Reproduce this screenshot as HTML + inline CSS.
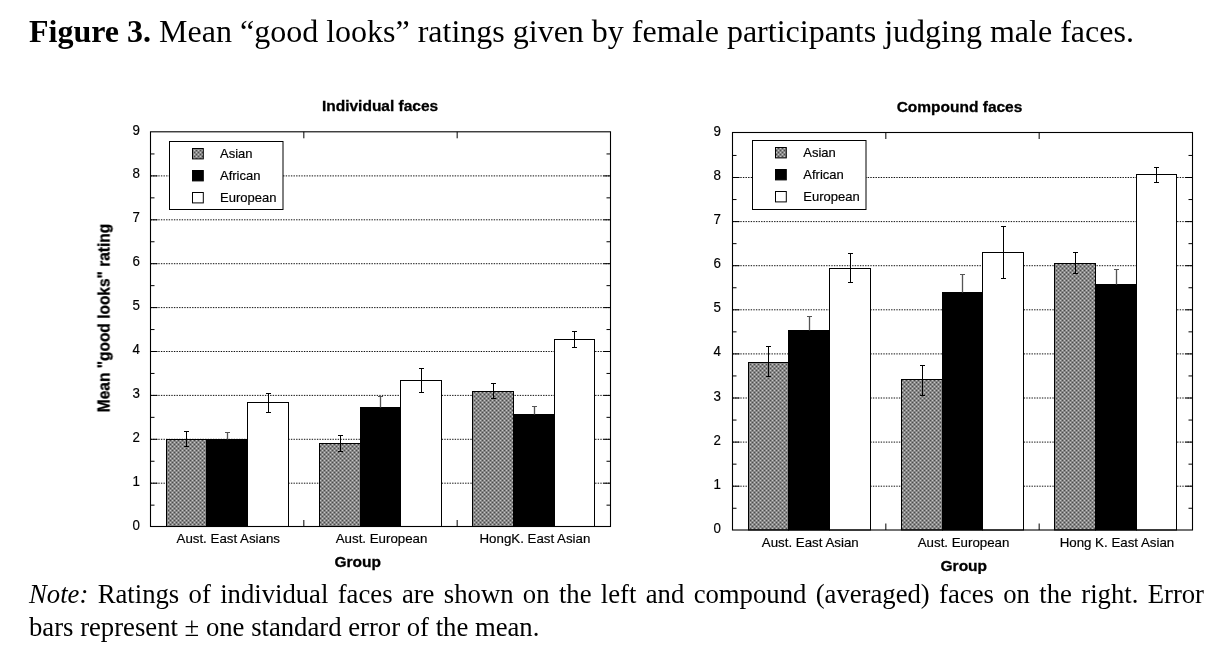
<!DOCTYPE html>
<html><head><meta charset="utf-8">
<style>
html,body{margin:0;padding:0;background:#fff;}
svg,.t{will-change:transform;}
body{width:1228px;height:656px;position:relative;overflow:hidden;}
.t{position:absolute;font-family:"Liberation Serif",serif;color:#000;white-space:nowrap;}
#title{left:29px;top:11px;font-size:32px;line-height:40px;}
#n1{left:29px;width:1175px;top:578px;font-size:26.7px;line-height:32px;text-align:justify;text-align-last:justify;}
#n2{left:29px;top:610.5px;font-size:26.7px;line-height:32px;}
</style></head><body>
<svg width="1228" height="656" viewBox="0 0 1228 656" style="position:absolute;left:0;top:0" font-family="Liberation Sans, sans-serif" stroke-width="0">
<style>text{stroke:#000;stroke-width:0.18px;} text[font-weight]{stroke-width:0.3px;}</style>
<defs>
<pattern id="hatch" width="4" height="4" patternUnits="userSpaceOnUse">
<rect width="4" height="4" fill="#878787"/>
<rect x="0" y="0" width="1" height="1" fill="#c4c4c4"/>
<rect x="2" y="0" width="1" height="1" fill="#4c4c4c"/>
<rect x="0" y="2" width="1" height="1" fill="#4c4c4c"/>
<rect x="2" y="2" width="1" height="1" fill="#c4c4c4"/>
</pattern>
</defs>
<line x1="150.5" y1="483.20000000000005" x2="610.5" y2="483.20000000000005" stroke="#111" stroke-width="1" stroke-dasharray="1.4 1.2"/>
<line x1="150.5" y1="439.3" x2="610.5" y2="439.3" stroke="#111" stroke-width="1" stroke-dasharray="1.4 1.2"/>
<line x1="150.5" y1="395.40000000000003" x2="610.5" y2="395.40000000000003" stroke="#111" stroke-width="1" stroke-dasharray="1.4 1.2"/>
<line x1="150.5" y1="351.5" x2="610.5" y2="351.5" stroke="#111" stroke-width="1" stroke-dasharray="1.4 1.2"/>
<line x1="150.5" y1="307.6" x2="610.5" y2="307.6" stroke="#111" stroke-width="1" stroke-dasharray="1.4 1.2"/>
<line x1="150.5" y1="263.70000000000005" x2="610.5" y2="263.70000000000005" stroke="#111" stroke-width="1" stroke-dasharray="1.4 1.2"/>
<line x1="150.5" y1="219.8" x2="610.5" y2="219.8" stroke="#111" stroke-width="1" stroke-dasharray="1.4 1.2"/>
<line x1="150.5" y1="175.90000000000003" x2="610.5" y2="175.90000000000003" stroke="#111" stroke-width="1" stroke-dasharray="1.4 1.2"/>
<line x1="150.5" y1="483.20000000000005" x2="157.5" y2="483.20000000000005" stroke="#000" stroke-width="1"/>
<line x1="603.5" y1="483.20000000000005" x2="610.5" y2="483.20000000000005" stroke="#000" stroke-width="1"/>
<line x1="150.5" y1="439.3" x2="157.5" y2="439.3" stroke="#000" stroke-width="1"/>
<line x1="603.5" y1="439.3" x2="610.5" y2="439.3" stroke="#000" stroke-width="1"/>
<line x1="150.5" y1="395.40000000000003" x2="157.5" y2="395.40000000000003" stroke="#000" stroke-width="1"/>
<line x1="603.5" y1="395.40000000000003" x2="610.5" y2="395.40000000000003" stroke="#000" stroke-width="1"/>
<line x1="150.5" y1="351.5" x2="157.5" y2="351.5" stroke="#000" stroke-width="1"/>
<line x1="603.5" y1="351.5" x2="610.5" y2="351.5" stroke="#000" stroke-width="1"/>
<line x1="150.5" y1="307.6" x2="157.5" y2="307.6" stroke="#000" stroke-width="1"/>
<line x1="603.5" y1="307.6" x2="610.5" y2="307.6" stroke="#000" stroke-width="1"/>
<line x1="150.5" y1="263.70000000000005" x2="157.5" y2="263.70000000000005" stroke="#000" stroke-width="1"/>
<line x1="603.5" y1="263.70000000000005" x2="610.5" y2="263.70000000000005" stroke="#000" stroke-width="1"/>
<line x1="150.5" y1="219.8" x2="157.5" y2="219.8" stroke="#000" stroke-width="1"/>
<line x1="603.5" y1="219.8" x2="610.5" y2="219.8" stroke="#000" stroke-width="1"/>
<line x1="150.5" y1="175.90000000000003" x2="157.5" y2="175.90000000000003" stroke="#000" stroke-width="1"/>
<line x1="603.5" y1="175.90000000000003" x2="610.5" y2="175.90000000000003" stroke="#000" stroke-width="1"/>
<line x1="150.5" y1="505.15000000000003" x2="154.5" y2="505.15000000000003" stroke="#000" stroke-width="1"/>
<line x1="606.5" y1="505.15000000000003" x2="610.5" y2="505.15000000000003" stroke="#000" stroke-width="1"/>
<line x1="150.5" y1="461.25000000000006" x2="154.5" y2="461.25000000000006" stroke="#000" stroke-width="1"/>
<line x1="606.5" y1="461.25000000000006" x2="610.5" y2="461.25000000000006" stroke="#000" stroke-width="1"/>
<line x1="150.5" y1="417.35" x2="154.5" y2="417.35" stroke="#000" stroke-width="1"/>
<line x1="606.5" y1="417.35" x2="610.5" y2="417.35" stroke="#000" stroke-width="1"/>
<line x1="150.5" y1="373.45000000000005" x2="154.5" y2="373.45000000000005" stroke="#000" stroke-width="1"/>
<line x1="606.5" y1="373.45000000000005" x2="610.5" y2="373.45000000000005" stroke="#000" stroke-width="1"/>
<line x1="150.5" y1="329.55" x2="154.5" y2="329.55" stroke="#000" stroke-width="1"/>
<line x1="606.5" y1="329.55" x2="610.5" y2="329.55" stroke="#000" stroke-width="1"/>
<line x1="150.5" y1="285.65000000000003" x2="154.5" y2="285.65000000000003" stroke="#000" stroke-width="1"/>
<line x1="606.5" y1="285.65000000000003" x2="610.5" y2="285.65000000000003" stroke="#000" stroke-width="1"/>
<line x1="150.5" y1="241.75000000000006" x2="154.5" y2="241.75000000000006" stroke="#000" stroke-width="1"/>
<line x1="606.5" y1="241.75000000000006" x2="610.5" y2="241.75000000000006" stroke="#000" stroke-width="1"/>
<line x1="150.5" y1="197.85000000000002" x2="154.5" y2="197.85000000000002" stroke="#000" stroke-width="1"/>
<line x1="606.5" y1="197.85000000000002" x2="610.5" y2="197.85000000000002" stroke="#000" stroke-width="1"/>
<line x1="150.5" y1="153.95000000000005" x2="154.5" y2="153.95000000000005" stroke="#000" stroke-width="1"/>
<line x1="606.5" y1="153.95000000000005" x2="610.5" y2="153.95000000000005" stroke="#000" stroke-width="1"/>
<line x1="303.83333333333337" y1="131.8" x2="303.83333333333337" y2="138.3" stroke="#000" stroke-width="1"/>
<line x1="303.83333333333337" y1="526.5" x2="303.83333333333337" y2="520.0" stroke="#000" stroke-width="1"/>
<line x1="457.1666666666667" y1="131.8" x2="457.1666666666667" y2="138.3" stroke="#000" stroke-width="1"/>
<line x1="457.1666666666667" y1="526.5" x2="457.1666666666667" y2="520.0" stroke="#000" stroke-width="1"/>
<rect x="169.5" y="141.5" width="113.5" height="68" fill="#fff" stroke="#000" stroke-width="1"/>
<rect x="192.5" y="148.5" width="10.8" height="10.4" fill="url(#hatch)" stroke="#000" stroke-width="1"/>
<text x="220" y="157.8" font-size="13">Asian</text>
<rect x="192.5" y="170.5" width="10.8" height="10.4" fill="#000" stroke="#000" stroke-width="1"/>
<text x="220" y="179.8" font-size="13">African</text>
<rect x="192.5" y="192.5" width="10.8" height="10.4" fill="#fff" stroke="#000" stroke-width="1"/>
<text x="220" y="201.8" font-size="13">European</text>
<rect x="166.5" y="439.5" width="40.0" height="87.00" fill="url(#hatch)" stroke="#000" stroke-width="1"/>
<line x1="186.5" y1="431.5" x2="186.5" y2="446.5" stroke="#000" stroke-width="1"/>
<line x1="184.0" y1="431.5" x2="189.0" y2="431.5" stroke="#000" stroke-width="1"/>
<line x1="184.0" y1="446.5" x2="189.0" y2="446.5" stroke="#000" stroke-width="1"/>
<rect x="206.5" y="439.5" width="41.0" height="87.00" fill="#000" stroke="#000" stroke-width="1"/>
<line x1="227.5" y1="432.5" x2="227.5" y2="439.5" stroke="#555" stroke-width="1.3"/>
<line x1="225.0" y1="432.5" x2="230.0" y2="432.5" stroke="#555" stroke-width="1"/>
<rect x="247.5" y="402.5" width="41.0" height="124.00" fill="#fff" stroke="#000" stroke-width="1"/>
<line x1="268.5" y1="393.5" x2="268.5" y2="412.5" stroke="#000" stroke-width="1"/>
<line x1="266.0" y1="393.5" x2="271.0" y2="393.5" stroke="#000" stroke-width="1"/>
<line x1="266.0" y1="412.5" x2="271.0" y2="412.5" stroke="#000" stroke-width="1"/>
<rect x="319.5" y="443.5" width="41.0" height="83.00" fill="url(#hatch)" stroke="#000" stroke-width="1"/>
<line x1="340.5" y1="435.5" x2="340.5" y2="451.5" stroke="#000" stroke-width="1"/>
<line x1="338.0" y1="435.5" x2="343.0" y2="435.5" stroke="#000" stroke-width="1"/>
<line x1="338.0" y1="451.5" x2="343.0" y2="451.5" stroke="#000" stroke-width="1"/>
<rect x="360.5" y="407.5" width="40.0" height="119.00" fill="#000" stroke="#000" stroke-width="1"/>
<line x1="380.5" y1="396.5" x2="380.5" y2="407.5" stroke="#555" stroke-width="1.3"/>
<line x1="378.0" y1="396.5" x2="383.0" y2="396.5" stroke="#555" stroke-width="1"/>
<rect x="400.5" y="380.5" width="41.0" height="146.00" fill="#fff" stroke="#000" stroke-width="1"/>
<line x1="421.5" y1="368.5" x2="421.5" y2="392.5" stroke="#000" stroke-width="1"/>
<line x1="419.0" y1="368.5" x2="424.0" y2="368.5" stroke="#000" stroke-width="1"/>
<line x1="419.0" y1="392.5" x2="424.0" y2="392.5" stroke="#000" stroke-width="1"/>
<rect x="472.5" y="391.5" width="41.0" height="135.00" fill="url(#hatch)" stroke="#000" stroke-width="1"/>
<line x1="493.5" y1="383.5" x2="493.5" y2="398.5" stroke="#000" stroke-width="1"/>
<line x1="491.0" y1="383.5" x2="496.0" y2="383.5" stroke="#000" stroke-width="1"/>
<line x1="491.0" y1="398.5" x2="496.0" y2="398.5" stroke="#000" stroke-width="1"/>
<rect x="513.5" y="414.5" width="41.0" height="112.00" fill="#000" stroke="#000" stroke-width="1"/>
<line x1="534.5" y1="406.5" x2="534.5" y2="414.5" stroke="#555" stroke-width="1.3"/>
<line x1="532.0" y1="406.5" x2="537.0" y2="406.5" stroke="#555" stroke-width="1"/>
<rect x="554.5" y="339.5" width="40.0" height="187.00" fill="#fff" stroke="#000" stroke-width="1"/>
<line x1="574.5" y1="331.5" x2="574.5" y2="347.5" stroke="#000" stroke-width="1"/>
<line x1="572.0" y1="331.5" x2="577.0" y2="331.5" stroke="#000" stroke-width="1"/>
<line x1="572.0" y1="347.5" x2="577.0" y2="347.5" stroke="#000" stroke-width="1"/>
<rect x="150.5" y="131.8" width="460.0" height="394.7" fill="none" stroke="#000" stroke-width="1.1"/>
<text transform="translate(139.8 529.60) scale(0.98 1.09)" font-size="13.6" text-anchor="end">0</text>
<text transform="translate(139.8 485.70) scale(0.98 1.09)" font-size="13.6" text-anchor="end">1</text>
<text transform="translate(139.8 441.80) scale(0.98 1.09)" font-size="13.6" text-anchor="end">2</text>
<text transform="translate(139.8 397.90) scale(0.98 1.09)" font-size="13.6" text-anchor="end">3</text>
<text transform="translate(139.8 354.00) scale(0.98 1.09)" font-size="13.6" text-anchor="end">4</text>
<text transform="translate(139.8 310.10) scale(0.98 1.09)" font-size="13.6" text-anchor="end">5</text>
<text transform="translate(139.8 266.20) scale(0.98 1.09)" font-size="13.6" text-anchor="end">6</text>
<text transform="translate(139.8 222.30) scale(0.98 1.09)" font-size="13.6" text-anchor="end">7</text>
<text transform="translate(139.8 178.40) scale(0.98 1.09)" font-size="13.6" text-anchor="end">8</text>
<text transform="translate(139.8 134.50) scale(0.98 1.09)" font-size="13.6" text-anchor="end">9</text>
<text x="228.27" y="542.9000000000001" font-size="13.3" text-anchor="middle">Aust. East Asians</text>
<text x="381.60" y="542.9000000000001" font-size="13.3" text-anchor="middle">Aust. European</text>
<text x="534.93" y="542.9000000000001" font-size="13.3" text-anchor="middle">HongK. East Asian</text>
<text x="380.1" y="111" font-size="15.5" font-weight="bold" text-anchor="middle">Individual faces</text>
<text x="357.7" y="566.7" font-size="15.5" font-weight="bold" text-anchor="middle">Group</text>
<line x1="732.5" y1="486.19999999999993" x2="1192.5" y2="486.19999999999993" stroke="#111" stroke-width="1" stroke-dasharray="1.4 1.2"/>
<line x1="732.5" y1="442.09999999999997" x2="1192.5" y2="442.09999999999997" stroke="#111" stroke-width="1" stroke-dasharray="1.4 1.2"/>
<line x1="732.5" y1="397.99999999999994" x2="1192.5" y2="397.99999999999994" stroke="#111" stroke-width="1" stroke-dasharray="1.4 1.2"/>
<line x1="732.5" y1="353.9" x2="1192.5" y2="353.9" stroke="#111" stroke-width="1" stroke-dasharray="1.4 1.2"/>
<line x1="732.5" y1="309.79999999999995" x2="1192.5" y2="309.79999999999995" stroke="#111" stroke-width="1" stroke-dasharray="1.4 1.2"/>
<line x1="732.5" y1="265.69999999999993" x2="1192.5" y2="265.69999999999993" stroke="#111" stroke-width="1" stroke-dasharray="1.4 1.2"/>
<line x1="732.5" y1="221.59999999999997" x2="1192.5" y2="221.59999999999997" stroke="#111" stroke-width="1" stroke-dasharray="1.4 1.2"/>
<line x1="732.5" y1="177.49999999999994" x2="1192.5" y2="177.49999999999994" stroke="#111" stroke-width="1" stroke-dasharray="1.4 1.2"/>
<line x1="732.5" y1="486.19999999999993" x2="739.5" y2="486.19999999999993" stroke="#000" stroke-width="1"/>
<line x1="1185.5" y1="486.19999999999993" x2="1192.5" y2="486.19999999999993" stroke="#000" stroke-width="1"/>
<line x1="732.5" y1="442.09999999999997" x2="739.5" y2="442.09999999999997" stroke="#000" stroke-width="1"/>
<line x1="1185.5" y1="442.09999999999997" x2="1192.5" y2="442.09999999999997" stroke="#000" stroke-width="1"/>
<line x1="732.5" y1="397.99999999999994" x2="739.5" y2="397.99999999999994" stroke="#000" stroke-width="1"/>
<line x1="1185.5" y1="397.99999999999994" x2="1192.5" y2="397.99999999999994" stroke="#000" stroke-width="1"/>
<line x1="732.5" y1="353.9" x2="739.5" y2="353.9" stroke="#000" stroke-width="1"/>
<line x1="1185.5" y1="353.9" x2="1192.5" y2="353.9" stroke="#000" stroke-width="1"/>
<line x1="732.5" y1="309.79999999999995" x2="739.5" y2="309.79999999999995" stroke="#000" stroke-width="1"/>
<line x1="1185.5" y1="309.79999999999995" x2="1192.5" y2="309.79999999999995" stroke="#000" stroke-width="1"/>
<line x1="732.5" y1="265.69999999999993" x2="739.5" y2="265.69999999999993" stroke="#000" stroke-width="1"/>
<line x1="1185.5" y1="265.69999999999993" x2="1192.5" y2="265.69999999999993" stroke="#000" stroke-width="1"/>
<line x1="732.5" y1="221.59999999999997" x2="739.5" y2="221.59999999999997" stroke="#000" stroke-width="1"/>
<line x1="1185.5" y1="221.59999999999997" x2="1192.5" y2="221.59999999999997" stroke="#000" stroke-width="1"/>
<line x1="732.5" y1="177.49999999999994" x2="739.5" y2="177.49999999999994" stroke="#000" stroke-width="1"/>
<line x1="1185.5" y1="177.49999999999994" x2="1192.5" y2="177.49999999999994" stroke="#000" stroke-width="1"/>
<line x1="732.5" y1="508.24999999999994" x2="736.5" y2="508.24999999999994" stroke="#000" stroke-width="1"/>
<line x1="1188.5" y1="508.24999999999994" x2="1192.5" y2="508.24999999999994" stroke="#000" stroke-width="1"/>
<line x1="732.5" y1="464.1499999999999" x2="736.5" y2="464.1499999999999" stroke="#000" stroke-width="1"/>
<line x1="1188.5" y1="464.1499999999999" x2="1192.5" y2="464.1499999999999" stroke="#000" stroke-width="1"/>
<line x1="732.5" y1="420.04999999999995" x2="736.5" y2="420.04999999999995" stroke="#000" stroke-width="1"/>
<line x1="1188.5" y1="420.04999999999995" x2="1192.5" y2="420.04999999999995" stroke="#000" stroke-width="1"/>
<line x1="732.5" y1="375.94999999999993" x2="736.5" y2="375.94999999999993" stroke="#000" stroke-width="1"/>
<line x1="1188.5" y1="375.94999999999993" x2="1192.5" y2="375.94999999999993" stroke="#000" stroke-width="1"/>
<line x1="732.5" y1="331.84999999999997" x2="736.5" y2="331.84999999999997" stroke="#000" stroke-width="1"/>
<line x1="1188.5" y1="331.84999999999997" x2="1192.5" y2="331.84999999999997" stroke="#000" stroke-width="1"/>
<line x1="732.5" y1="287.74999999999994" x2="736.5" y2="287.74999999999994" stroke="#000" stroke-width="1"/>
<line x1="1188.5" y1="287.74999999999994" x2="1192.5" y2="287.74999999999994" stroke="#000" stroke-width="1"/>
<line x1="732.5" y1="243.64999999999992" x2="736.5" y2="243.64999999999992" stroke="#000" stroke-width="1"/>
<line x1="1188.5" y1="243.64999999999992" x2="1192.5" y2="243.64999999999992" stroke="#000" stroke-width="1"/>
<line x1="732.5" y1="199.54999999999995" x2="736.5" y2="199.54999999999995" stroke="#000" stroke-width="1"/>
<line x1="1188.5" y1="199.54999999999995" x2="1192.5" y2="199.54999999999995" stroke="#000" stroke-width="1"/>
<line x1="732.5" y1="155.44999999999993" x2="736.5" y2="155.44999999999993" stroke="#000" stroke-width="1"/>
<line x1="1188.5" y1="155.44999999999993" x2="1192.5" y2="155.44999999999993" stroke="#000" stroke-width="1"/>
<line x1="885.8333333333334" y1="132.5" x2="885.8333333333334" y2="139.0" stroke="#000" stroke-width="1"/>
<line x1="885.8333333333334" y1="530" x2="885.8333333333334" y2="523.5" stroke="#000" stroke-width="1"/>
<line x1="1039.1666666666667" y1="132.5" x2="1039.1666666666667" y2="139.0" stroke="#000" stroke-width="1"/>
<line x1="1039.1666666666667" y1="530" x2="1039.1666666666667" y2="523.5" stroke="#000" stroke-width="1"/>
<rect x="752.5" y="140.5" width="113.5" height="69" fill="#fff" stroke="#000" stroke-width="1"/>
<rect x="775.5" y="147.5" width="10.8" height="10.4" fill="url(#hatch)" stroke="#000" stroke-width="1"/>
<text x="803.3" y="156.8" font-size="13">Asian</text>
<rect x="775.5" y="169.5" width="10.8" height="10.4" fill="#000" stroke="#000" stroke-width="1"/>
<text x="803.3" y="178.6" font-size="13">African</text>
<rect x="775.5" y="191.5" width="10.8" height="10.4" fill="#fff" stroke="#000" stroke-width="1"/>
<text x="803.3" y="200.9" font-size="13">European</text>
<rect x="748.5" y="362.5" width="40.0" height="167.50" fill="url(#hatch)" stroke="#000" stroke-width="1"/>
<line x1="768.5" y1="346.5" x2="768.5" y2="376.5" stroke="#000" stroke-width="1"/>
<line x1="766.0" y1="346.5" x2="771.0" y2="346.5" stroke="#000" stroke-width="1"/>
<line x1="766.0" y1="376.5" x2="771.0" y2="376.5" stroke="#000" stroke-width="1"/>
<rect x="788.5" y="330.5" width="41.0" height="199.50" fill="#000" stroke="#000" stroke-width="1"/>
<line x1="809.5" y1="316.5" x2="809.5" y2="330.5" stroke="#555" stroke-width="1.3"/>
<line x1="807.0" y1="316.5" x2="812.0" y2="316.5" stroke="#555" stroke-width="1"/>
<rect x="829.5" y="268.5" width="41.0" height="261.50" fill="#fff" stroke="#000" stroke-width="1"/>
<line x1="850.5" y1="253.5" x2="850.5" y2="282.5" stroke="#000" stroke-width="1"/>
<line x1="848.0" y1="253.5" x2="853.0" y2="253.5" stroke="#000" stroke-width="1"/>
<line x1="848.0" y1="282.5" x2="853.0" y2="282.5" stroke="#000" stroke-width="1"/>
<rect x="901.5" y="379.5" width="41.0" height="150.50" fill="url(#hatch)" stroke="#000" stroke-width="1"/>
<line x1="922.5" y1="365.5" x2="922.5" y2="395.5" stroke="#000" stroke-width="1"/>
<line x1="920.0" y1="365.5" x2="925.0" y2="365.5" stroke="#000" stroke-width="1"/>
<line x1="920.0" y1="395.5" x2="925.0" y2="395.5" stroke="#000" stroke-width="1"/>
<rect x="942.5" y="292.5" width="40.0" height="237.50" fill="#000" stroke="#000" stroke-width="1"/>
<line x1="962.5" y1="274.5" x2="962.5" y2="292.5" stroke="#555" stroke-width="1.3"/>
<line x1="960.0" y1="274.5" x2="965.0" y2="274.5" stroke="#555" stroke-width="1"/>
<rect x="982.5" y="252.5" width="41.0" height="277.50" fill="#fff" stroke="#000" stroke-width="1"/>
<line x1="1003.5" y1="226.5" x2="1003.5" y2="278.5" stroke="#000" stroke-width="1"/>
<line x1="1001.0" y1="226.5" x2="1006.0" y2="226.5" stroke="#000" stroke-width="1"/>
<line x1="1001.0" y1="278.5" x2="1006.0" y2="278.5" stroke="#000" stroke-width="1"/>
<rect x="1054.5" y="263.5" width="41.0" height="266.50" fill="url(#hatch)" stroke="#000" stroke-width="1"/>
<line x1="1075.5" y1="252.5" x2="1075.5" y2="273.5" stroke="#000" stroke-width="1"/>
<line x1="1073.0" y1="252.5" x2="1078.0" y2="252.5" stroke="#000" stroke-width="1"/>
<line x1="1073.0" y1="273.5" x2="1078.0" y2="273.5" stroke="#000" stroke-width="1"/>
<rect x="1095.5" y="284.5" width="41.0" height="245.50" fill="#000" stroke="#000" stroke-width="1"/>
<line x1="1116.5" y1="269.5" x2="1116.5" y2="284.5" stroke="#555" stroke-width="1.3"/>
<line x1="1114.0" y1="269.5" x2="1119.0" y2="269.5" stroke="#555" stroke-width="1"/>
<rect x="1136.5" y="174.5" width="40.0" height="355.50" fill="#fff" stroke="#000" stroke-width="1"/>
<line x1="1156.5" y1="167.5" x2="1156.5" y2="182.5" stroke="#000" stroke-width="1"/>
<line x1="1154.0" y1="167.5" x2="1159.0" y2="167.5" stroke="#000" stroke-width="1"/>
<line x1="1154.0" y1="182.5" x2="1159.0" y2="182.5" stroke="#000" stroke-width="1"/>
<rect x="732.5" y="132.5" width="460.0" height="397.5" fill="none" stroke="#000" stroke-width="1.1"/>
<text transform="translate(720.8 532.80) scale(0.98 1.09)" font-size="13.6" text-anchor="end">0</text>
<text transform="translate(720.8 488.70) scale(0.98 1.09)" font-size="13.6" text-anchor="end">1</text>
<text transform="translate(720.8 444.60) scale(0.98 1.09)" font-size="13.6" text-anchor="end">2</text>
<text transform="translate(720.8 400.50) scale(0.98 1.09)" font-size="13.6" text-anchor="end">3</text>
<text transform="translate(720.8 356.40) scale(0.98 1.09)" font-size="13.6" text-anchor="end">4</text>
<text transform="translate(720.8 312.30) scale(0.98 1.09)" font-size="13.6" text-anchor="end">5</text>
<text transform="translate(720.8 268.20) scale(0.98 1.09)" font-size="13.6" text-anchor="end">6</text>
<text transform="translate(720.8 224.10) scale(0.98 1.09)" font-size="13.6" text-anchor="end">7</text>
<text transform="translate(720.8 180.00) scale(0.98 1.09)" font-size="13.6" text-anchor="end">8</text>
<text transform="translate(720.8 135.90) scale(0.98 1.09)" font-size="13.6" text-anchor="end">9</text>
<text x="810.27" y="547.0" font-size="13.3" text-anchor="middle">Aust. East Asian</text>
<text x="963.60" y="547.0" font-size="13.3" text-anchor="middle">Aust. European</text>
<text x="1116.93" y="547.0" font-size="13.3" text-anchor="middle">Hong K. East Asian</text>
<text x="959.5" y="112.2" font-size="15.5" font-weight="bold" text-anchor="middle">Compound faces</text>
<text x="963.8" y="570.6" font-size="15.5" font-weight="bold" text-anchor="middle">Group</text>
<text x="0" y="0" font-size="15.5" font-weight="bold" text-anchor="middle" transform="translate(110 318) rotate(-90) scale(1 1.03)">Mean "good looks" rating</text>
</svg>
<div class="t" id="title"><b>Figure 3.</b> Mean “good looks” ratings given by female participants judging male faces.</div>
<div class="t" id="n1" style="white-space:normal"><i>Note:</i> Ratings of individual faces are shown on the left and compound (averaged) faces on the right. Error</div>
<div class="t" id="n2"><span>bars represent ± one standard error of the mean.</span></div>
</body></html>
